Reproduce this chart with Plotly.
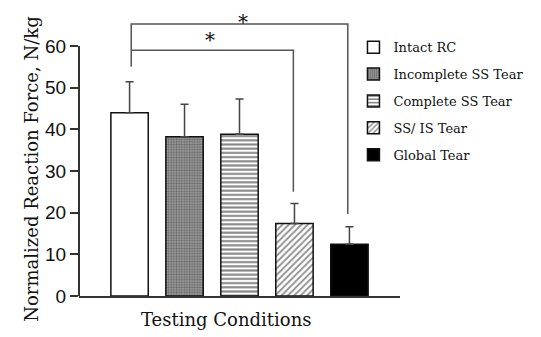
import plotly.graph_objects as go

categories = ["Intact RC", "Incomplete SS Tear", "Complete SS Tear", "SS/ IS Tear", "Global Tear"]
means = [44.0, 38.2, 38.8, 17.4, 12.4]
errors = [7.4, 7.8, 8.5, 4.8, 4.2]
y_ticks = [0, 10, 20, 30, 40, 50, 60]

patterns = [
    dict(shape="", fgcolor="#222", bgcolor="white"),
    dict(shape=".", fgcolor="#2a2a2a", bgcolor="#a5a5a5", size=2.6, solidity=0.5),
    dict(shape="-", fgcolor="#111", bgcolor="white", size=4.2, solidity=0.5),
    dict(shape="/", fgcolor="#222", bgcolor="white", size=4.5, solidity=0.4),
    dict(shape="", fgcolor="#000", bgcolor="black"),
]
fills = ["white", "#a5a5a5", "white", "white", "black"]

fig = go.Figure()
for i, (name, m, e) in enumerate(zip(categories, means, errors)):
    fig.add_trace(go.Bar(
        x=[i], y=[m], name=name, width=0.68,
        marker=dict(color=fills[i], line=dict(color="#111", width=1.5), pattern=patterns[i]),
        error_y=dict(type="data", array=[e], symmetric=False, arrayminus=[0],
                     color="#444", thickness=1.5, width=4),
        legendgroup=name,
    ))

line_style = dict(color="#555", width=1.5)
# significance brackets
fig.add_shape(type="path", xref="x", yref="y",
              path="M 0.03,55 L 0.03,65.3 L 3.97,65.3 L 3.97,19.7", line=line_style)
fig.add_shape(type="path", xref="x", yref="y",
              path="M 0.03,59 L 2.98,59 L 2.98,25", line=line_style)
fig.add_annotation(x=2.06, y=1.0, xref="x", yref="paper", yanchor="top", text="*",
                   showarrow=False, font=dict(family="DejaVu Serif", size=20, color="#111"))
fig.add_annotation(x=1.46, y=61.4, xref="x", yref="y", text="*", showarrow=False,
                   font=dict(family="DejaVu Serif", size=20, color="#111"))
# y axis line (0-60)
fig.add_shape(type="line", xref="paper", yref="y", x0=0, x1=0, y0=0, y1=60,
              line=dict(color="#333", width=2))

fig.add_annotation(x=-0.187, y=0.44, xref="paper", yref="paper", textangle=-90,
                   text="Normalized Reaction Force, N/kg", showarrow=False,
                   font=dict(family="DejaVu Serif", size=18, color="#111"))
fig.add_annotation(x=0.458, y=-0.125, xref="paper", yref="paper",
                   text="Testing Conditions", showarrow=False,
                   font=dict(family="DejaVu Serif", size=18, color="#111"))

fig.update_layout(
    width=533, height=329,
    margin=dict(l=71, r=141, t=0, b=41),
    plot_bgcolor="white", paper_bgcolor="white",
    barmode="overlay",
    showlegend=True,
    legend=dict(x=0.855, y=0.916, xanchor="left", yanchor="top",
                font=dict(family="DejaVu Serif", size=13, color="#111"),
                bgcolor="rgba(0,0,0,0)", tracegroupgap=7, itemwidth=30),
    xaxis=dict(range=[-0.92, 4.92], showticklabels=False, ticks="", showgrid=False,
               zeroline=False, showline=True, linecolor="#333", linewidth=2),
    yaxis=dict(range=[0, 69.12], tickvals=y_ticks, ticks="outside", ticklen=8,
               tickwidth=1.5, tickcolor="#333", showgrid=False, zeroline=False,
               showline=False, tickfont=dict(family="Liberation Sans", size=19, color="#111")),
)

fig.write_html("out.html")
